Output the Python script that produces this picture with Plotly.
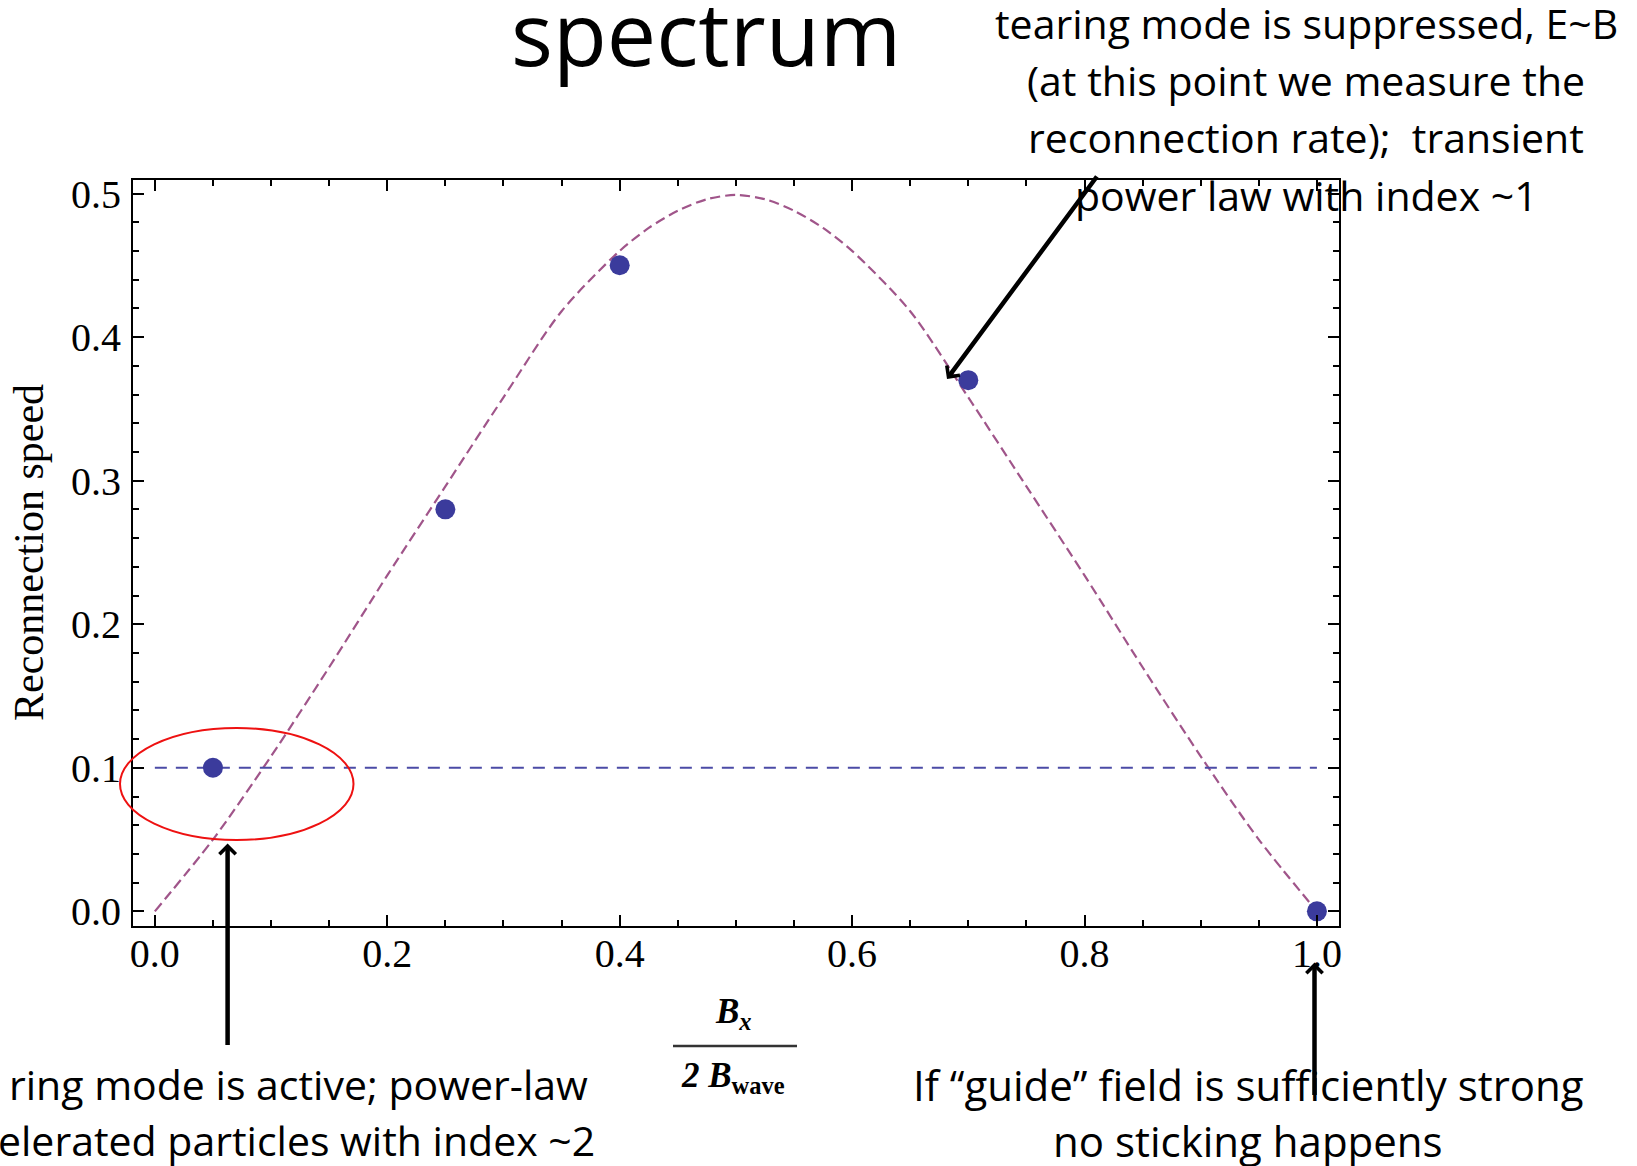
import plotly.graph_objects as go

# ---------------- data ----------------
point_x = [0.05, 0.25, 0.40, 0.70, 1.00]
point_y = [0.10, 0.28, 0.45, 0.37, 0.00]

curve_x = [0.000, 0.050, 0.100, 0.150, 0.200, 0.250, 0.300, 0.350, 0.400, 0.425,
           0.450, 0.475, 0.500, 0.525, 0.550, 0.575, 0.600, 0.650, 0.700, 0.750,
           0.800, 0.850, 0.900, 0.950, 1.000]
curve_y = [0.000, 0.050, 0.108, 0.170, 0.234, 0.296, 0.358, 0.418, 0.460, 0.476,
           0.488, 0.496, 0.499, 0.496, 0.488, 0.476, 0.460, 0.418, 0.358, 0.296,
           0.234, 0.170, 0.108, 0.050, 0.000]

ref_x = [0.0, 1.0]
ref_y = [0.1, 0.1]

x_ticks = [0.0, 0.2, 0.4, 0.6, 0.8, 1.0]
x_tick_labels = ["0.0", "0.2", "0.4", "0.6", "0.8", "1.0"]
y_ticks = [0.0, 0.1, 0.2, 0.3, 0.4, 0.5]
y_tick_labels = ["0.0", "0.1", "0.2", "0.3", "0.4", "0.5"]

title_text = "spectrum"
top_lines = ["tearing mode is suppressed, E~B",
             "(at this point we measure the",
             "reconnection rate);\u00a0 transient",
             "power law with index ~1"]
left_lines = ["ring mode is active; power-law",
              "elerated particles with index ~2"]
right_lines = ["If \u201cguide\u201d field is sufficiently strong",
               "no sticking happens"]

# ---------------- layout helpers ----------------
W, H = 1637, 1166
L, R, T, B = 133, 298, 180, 240
PW, PH = W - L - R, H - T - B


def px(x):
    return (x - L) / PW


def py(y):
    return (H - B - y) / PH


SANS = "Open Sans"
SERIF = "Liberation Serif, Times New Roman, serif"

fig = go.Figure()
fig.add_trace(go.Scatter(x=curve_x, y=curve_y, mode="lines",
                         line=dict(color="#a0558a", width=2.2, dash="10px,5px",
                                   shape="spline", smoothing=0.8),
                         hoverinfo="skip", showlegend=False))
fig.add_trace(go.Scatter(x=ref_x, y=ref_y, mode="lines",
                         line=dict(color="#4b4ba6", width=2, dash="12px,9px"),
                         hoverinfo="skip", showlegend=False))
fig.add_trace(go.Scatter(x=point_x, y=point_y, mode="markers",
                         marker=dict(size=20, color="#3b3b9c", line=dict(width=0)),
                         showlegend=False))

axis_common = dict(showgrid=False, zeroline=False, showline=True, linecolor="black",
                   linewidth=2, mirror="allticks", ticks="inside", tickcolor="black",
                   tickwidth=2, ticklen=11,
                   tickfont=dict(family=SERIF, size=40, color="black"))

fig.update_xaxes(range=[-0.0188, 1.019], tickvals=x_ticks, ticktext=x_tick_labels,
                 ticklabelstandoff=-9,
                 minor=dict(ticks="inside", dtick=0.05, ticklen=6, tickwidth=1.5,
                            tickcolor="black"),
                 **axis_common)
fig.update_yaxes(range=[-0.0102, 0.5094], tickvals=y_ticks, ticktext=y_tick_labels,
                 ticklabelstandoff=2,
                 minor=dict(ticks="inside", dtick=0.02, ticklen=6, tickwidth=1.5,
                            tickcolor="black"),
                 **axis_common)

ann = []
# title fragment
ann.append(dict(text=title_text, x=px(706), y=py(66 - 0.388 * 88), xref="paper", yref="paper",
                xanchor="center", yanchor="middle", showarrow=False,
                font=dict(family=SANS, size=88, color="black")))
# top-right note
for i, t in enumerate(top_lines):
    base = 38.6 + 57.4 * i
    ann.append(dict(text=t, x=px(1306), y=py(base - 0.388 * 41), xref="paper", yref="paper",
                    xanchor="center", yanchor="middle", showarrow=False,
                    font=dict(family=SANS, size=41, color="black")))
# bottom-left note
for t, right, base in zip(left_lines, [590, 597], [1100, 1156]):
    ann.append(dict(text=t, x=px(right), y=py(base - 0.388 * 41), xref="paper", yref="paper",
                    xanchor="right", yanchor="middle", showarrow=False,
                    font=dict(family=SANS, size=41, color="black")))
# bottom-right note
for t, base in zip(right_lines, [1100, 1156]):
    ann.append(dict(text=t, x=px(1248), y=py(base - 0.388 * 41), xref="paper", yref="paper",
                    xanchor="center", yanchor="middle", showarrow=False,
                    font=dict(family=SANS, size=42, color="black")))
# y axis title
ann.append(dict(text="Reconnection speed", x=px(29), y=py(553), xref="paper", yref="paper",
                xanchor="center", yanchor="middle", showarrow=False, textangle=-90,
                font=dict(family=SERIF, size=42, color="black")))
# x axis label (fraction)
ann.append(dict(text="<b><i>B</i></b><sub><b><i>x</i></b></sub>", x=px(733), y=py(1013),
                xref="paper", yref="paper", xanchor="center", yanchor="middle",
                showarrow=False, font=dict(family=SERIF, size=35, color="black")))
ann.append(dict(text="<b><i>2 B</i></b><sub><b>wave</b></sub>", x=px(733), y=py(1077),
                xref="paper", yref="paper", xanchor="center", yanchor="middle",
                showarrow=False, font=dict(family=SERIF, size=35, color="black")))
# arrows
for hx, hy, ax, ay in [(947, 379, 151, -204), (227.6, 843.6, 0, 203), (1314.5, 962.6, 0, 134)]:
    ann.append(dict(text="", x=px(hx), y=py(hy), xref="paper", yref="paper",
                    ax=ax, ay=ay, showarrow=True, arrowhead=4, arrowsize=0.7,
                    arrowwidth=4.5, arrowcolor="black", standoff=0))

shapes = [
    dict(type="circle", xref="paper", yref="paper", x0=px(120), x1=px(353.5),
         y0=py(840), y1=py(728), line=dict(color="#ee1111", width=2)),
    dict(type="line", xref="paper", yref="paper", x0=px(673), x1=px(797),
         y0=py(1046), y1=py(1046), line=dict(color="#333333", width=2.5)),
]

fig.update_layout(width=W, height=H, autosize=False,
                  margin=dict(l=L, r=R, t=T, b=B),
                  paper_bgcolor="white", plot_bgcolor="white",
                  annotations=ann, shapes=shapes, showlegend=False)

fig.write_html("out.html",
               config={"displayModeBar": False},
               post_script="document.body.style.margin='0';"
                           "document.body.style.overflow='hidden';")
